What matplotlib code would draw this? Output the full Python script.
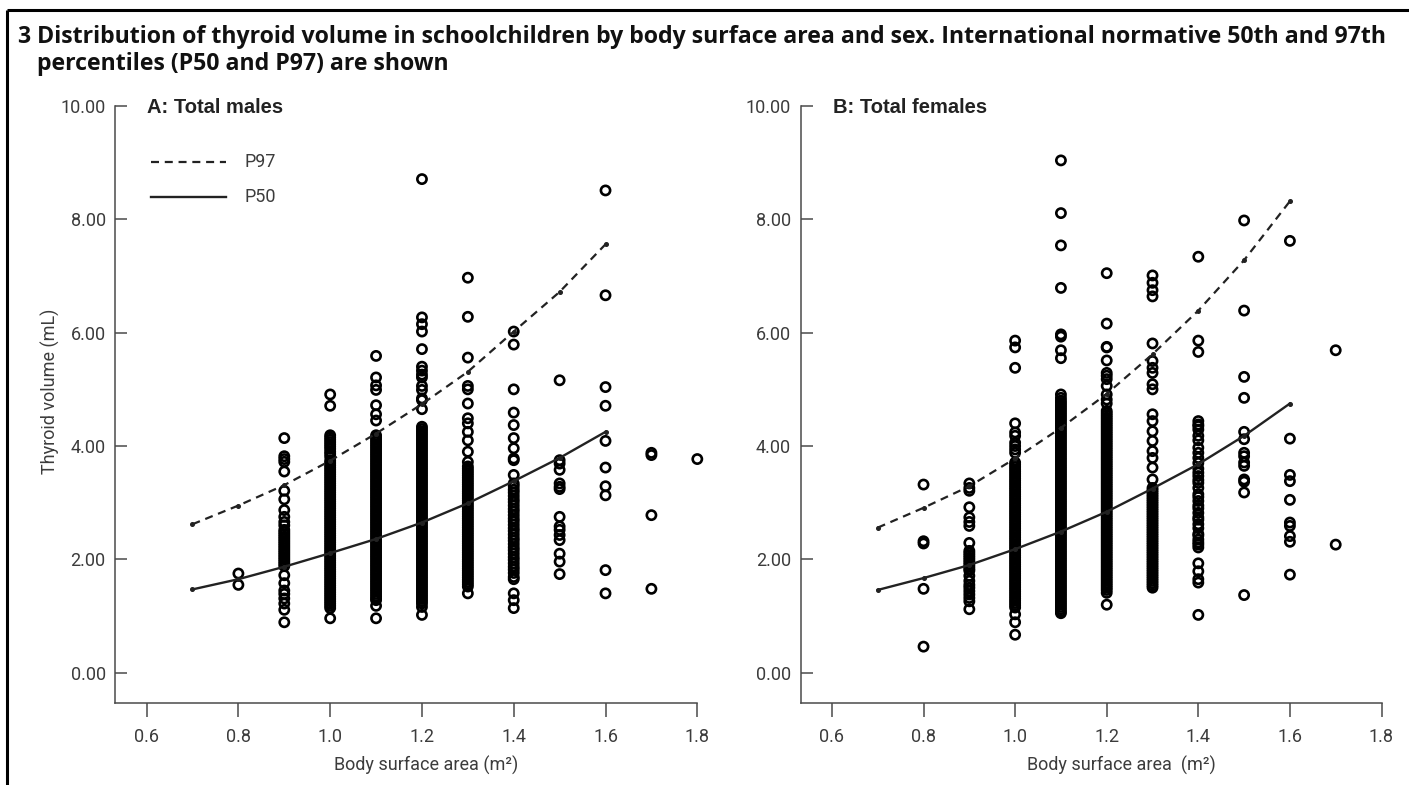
import matplotlib
matplotlib.use("Agg")
import matplotlib.pyplot as plt
from matplotlib.lines import Line2D

# ---------------- data ----------------
curve_bsa = [0.7, 0.8, 0.9, 1.0, 1.1, 1.2, 1.3, 1.4, 1.5, 1.6]
male_p50 = [1.47, 1.65, 1.87, 2.11, 2.36, 2.65, 2.99, 3.38, 3.79, 4.25]
male_p97 = [2.62, 2.95, 3.31, 3.74, 4.22, 4.74, 5.31, 6.02, 6.72, 7.56]
female_p50 = [1.46, 1.67, 1.90, 2.18, 2.49, 2.84, 3.25, 3.68, 4.18, 4.75]
female_p97 = [2.56, 2.91, 3.29, 3.78, 4.32, 4.92, 5.62, 6.39, 7.28, 8.32]

# males: thyroid volume (mL) observed at each body surface area (m2)
m08 = [1.75, 1.55]
m09 = [4.14, 3.82, 3.77, 3.72, 3.55, 3.21, 3.06, 2.87, 2.75, 2.66, 2.60, 2.52, 2.48, 2.44,
       2.40, 2.36, 2.32, 2.28, 2.24, 2.20, 2.16, 2.12, 2.08, 2.04, 2.00, 1.96, 1.92, 1.88,
       1.72, 1.58, 1.45, 1.39, 1.31, 1.22, 1.11, 0.89]
m10 = [4.91, 4.71, 4.19, 4.15, 4.11, 4.07, 4.03, 3.99, 3.95, 3.90, 3.86, 3.81, 3.74, 3.70,
       3.66, 3.62, 3.58, 3.54, 3.50, 3.46, 3.42, 3.38, 3.34, 3.30, 3.26, 3.22, 3.18, 3.14,
       3.10, 3.06, 3.02, 2.98, 2.94, 2.90, 2.86, 2.82, 2.78, 2.74, 2.70, 2.66, 2.62, 2.58,
       2.54, 2.50, 2.46, 2.42, 2.38, 2.34, 2.30, 2.26, 2.22, 2.18, 2.14, 2.10, 2.06, 2.02,
       1.98, 1.94, 1.90, 1.86, 1.82, 1.78, 1.74, 1.70, 1.66, 1.62, 1.58, 1.54, 1.50, 1.46,
       1.42, 1.38, 1.34, 1.30, 1.26, 1.22, 1.18, 1.14, 0.96]
m11 = [5.59, 5.21, 5.07, 4.99, 4.72, 4.56, 4.45, 4.19, 4.15, 4.11, 4.07, 4.03, 3.99, 3.95,
       3.91, 3.87, 3.83, 3.79, 3.75, 3.71, 3.67, 3.63, 3.59, 3.55, 3.51, 3.47, 3.43, 3.39,
       3.35, 3.31, 3.27, 3.23, 3.19, 3.15, 3.11, 3.07, 3.03, 2.99, 2.95, 2.91, 2.87, 2.83,
       2.79, 2.75, 2.71, 2.67, 2.63, 2.59, 2.55, 2.51, 2.47, 2.43, 2.39, 2.35, 2.31, 2.27,
       2.23, 2.19, 2.15, 2.11, 2.07, 2.03, 1.99, 1.95, 1.91, 1.87, 1.83, 1.79, 1.75, 1.71,
       1.67, 1.63, 1.59, 1.55, 1.51, 1.47, 1.43, 1.39, 1.35, 1.31, 1.28, 1.18, 0.96]
m12 = [8.71, 6.27, 6.15, 6.02, 5.71, 5.40, 5.33, 5.26, 5.21, 5.06, 4.99, 4.84, 4.81, 4.65,
       4.34, 4.30, 4.26, 4.22, 4.18, 4.14, 4.10, 4.06, 4.02, 3.98, 3.94, 3.90, 3.86, 3.82,
       3.78, 3.74, 3.70, 3.66, 3.62, 3.58, 3.54, 3.50, 3.46, 3.42, 3.38, 3.34, 3.30, 3.26,
       3.22, 3.18, 3.14, 3.10, 3.06, 3.02, 2.98, 2.94, 2.90, 2.86, 2.82, 2.78, 2.74, 2.70,
       2.66, 2.62, 2.58, 2.54, 2.50, 2.46, 2.42, 2.38, 2.34, 2.30, 2.26, 2.22, 2.18, 2.14,
       2.10, 2.06, 2.02, 1.98, 1.94, 1.90, 1.86, 1.82, 1.78, 1.74, 1.70, 1.66, 1.62, 1.58,
       1.54, 1.50, 1.46, 1.42, 1.38, 1.34, 1.30, 1.26, 1.22, 1.16, 1.02]
m13 = [6.97, 6.28, 5.56, 5.06, 5.00, 4.75, 4.49, 4.40, 4.25, 4.10, 3.90, 3.72, 3.64, 3.60,
       3.56, 3.52, 3.48, 3.44, 3.40, 3.36, 3.32, 3.28, 3.24, 3.20, 3.16, 3.12, 3.08, 3.04,
       3.00, 2.96, 2.92, 2.88, 2.84, 2.80, 2.76, 2.72, 2.68, 2.64, 2.60, 2.56, 2.52, 2.48,
       2.44, 2.40, 2.36, 2.32, 2.28, 2.24, 2.20, 2.16, 2.12, 2.08, 2.04, 2.00, 1.96, 1.92,
       1.88, 1.84, 1.80, 1.76, 1.72, 1.68, 1.64, 1.60, 1.56, 1.52, 1.40]
m14 = [6.02, 5.79, 5.00, 4.59, 4.37, 4.14, 3.96, 3.78, 3.75, 3.49, 3.34, 3.29, 3.23, 3.18,
       3.12, 3.06, 3.01, 2.95, 2.89, 2.84, 2.78, 2.72, 2.67, 2.61, 2.55, 2.50, 2.44, 2.38,
       2.33, 2.27, 2.21, 2.16, 2.10, 2.04, 1.99, 1.93, 1.87, 1.82, 1.76, 1.69, 1.65, 1.40,
       1.28, 1.14]
m15 = [5.16, 3.75, 3.69, 3.58, 3.34, 3.28, 3.24, 2.75, 2.58, 2.52, 2.43, 2.34, 2.10, 1.96, 1.74]
m16 = [8.51, 6.66, 5.04, 4.71, 4.09, 3.62, 3.29, 3.13, 1.81, 1.40]
m17 = [3.88, 3.84, 2.78, 1.48]
m18 = [3.77]

# females
f08 = [3.32, 2.32, 2.28, 1.48, 0.46]
f09 = [3.34, 3.26, 3.21, 2.92, 2.74, 2.66, 2.59, 2.29, 2.15, 2.11, 2.07, 2.03, 1.99, 1.95,
       1.91, 1.87, 1.83, 1.80, 1.71, 1.62, 1.55, 1.50, 1.44, 1.38, 1.32, 1.26, 1.12]
f10 = [5.86, 5.74, 5.38, 4.40, 4.24, 4.18, 4.06, 4.00, 3.94, 3.88, 3.71, 3.67, 3.63, 3.59,
       3.55, 3.51, 3.47, 3.43, 3.39, 3.35, 3.31, 3.27, 3.23, 3.19, 3.15, 3.11, 3.07, 3.03,
       2.99, 2.95, 2.91, 2.87, 2.83, 2.79, 2.75, 2.71, 2.67, 2.63, 2.59, 2.55, 2.51, 2.47,
       2.43, 2.39, 2.35, 2.31, 2.27, 2.23, 2.19, 2.15, 2.11, 2.07, 2.03, 1.99, 1.95, 1.91,
       1.87, 1.83, 1.79, 1.75, 1.71, 1.67, 1.63, 1.59, 1.55, 1.51, 1.47, 1.43, 1.39, 1.35,
       1.31, 1.27, 1.23, 1.19, 1.15, 1.03, 0.89, 0.67]
f11 = [9.04, 8.11, 7.54, 6.79, 5.97, 5.93, 5.69, 5.55, 4.91, 4.85, 4.80, 4.76, 4.72, 4.68,
       4.64, 4.60, 4.56, 4.52, 4.48, 4.44, 4.40, 4.36, 4.32, 4.28, 4.24, 4.20, 4.16, 4.12,
       4.08, 4.04, 4.00, 3.96, 3.92, 3.88, 3.84, 3.80, 3.76, 3.72, 3.68, 3.64, 3.60, 3.56,
       3.52, 3.48, 3.44, 3.40, 3.36, 3.32, 3.28, 3.24, 3.20, 3.16, 3.12, 3.08, 3.04, 3.00,
       2.96, 2.92, 2.88, 2.84, 2.80, 2.76, 2.72, 2.68, 2.64, 2.60, 2.56, 2.52, 2.48, 2.44,
       2.40, 2.36, 2.32, 2.28, 2.24, 2.20, 2.16, 2.12, 2.08, 2.04, 2.00, 1.96, 1.92, 1.88,
       1.84, 1.80, 1.76, 1.72, 1.68, 1.64, 1.60, 1.56, 1.52, 1.48, 1.44, 1.40, 1.36, 1.32,
       1.28, 1.24, 1.20, 1.16, 1.12, 1.08, 1.05]
f12 = [7.05, 6.16, 5.75, 5.74, 5.51, 5.29, 5.24, 5.18, 5.06, 4.91, 4.82, 4.75, 4.62, 4.58,
       4.54, 4.50, 4.46, 4.42, 4.38, 4.34, 4.30, 4.26, 4.22, 4.18, 4.14, 4.10, 4.06, 4.02,
       3.98, 3.94, 3.90, 3.86, 3.82, 3.78, 3.74, 3.70, 3.66, 3.62, 3.58, 3.54, 3.50, 3.46,
       3.42, 3.38, 3.34, 3.30, 3.26, 3.22, 3.18, 3.14, 3.10, 3.06, 3.02, 2.98, 2.94, 2.90,
       2.86, 2.82, 2.78, 2.74, 2.70, 2.66, 2.62, 2.58, 2.54, 2.50, 2.46, 2.42, 2.38, 2.34,
       2.30, 2.26, 2.22, 2.18, 2.14, 2.10, 2.06, 2.02, 1.98, 1.94, 1.90, 1.86, 1.82, 1.78,
       1.74, 1.70, 1.66, 1.62, 1.58, 1.54, 1.50, 1.46, 1.41, 1.20]
f13 = [7.01, 6.88, 6.75, 6.64, 5.81, 5.50, 5.38, 5.29, 5.09, 5.00, 4.56, 4.44, 4.26, 4.09,
       3.91, 3.79, 3.62, 3.41, 3.26, 3.22, 3.18, 3.14, 3.10, 3.06, 3.02, 2.98, 2.94, 2.90,
       2.86, 2.82, 2.78, 2.74, 2.70, 2.66, 2.62, 2.58, 2.54, 2.50, 2.46, 2.42, 2.38, 2.34,
       2.30, 2.26, 2.22, 2.18, 2.14, 2.10, 2.06, 2.02, 1.98, 1.94, 1.90, 1.86, 1.82, 1.78,
       1.74, 1.70, 1.66, 1.62, 1.58, 1.54, 1.50]
f14 = [7.34, 5.86, 5.66, 4.44, 4.38, 4.35, 4.29, 4.18, 4.10, 3.97, 3.88, 3.79, 3.70, 3.60,
       3.53, 3.47, 3.40, 3.35, 3.26, 3.15, 3.10, 3.03, 2.95, 2.90, 2.82, 2.74, 2.70, 2.62,
       2.55, 2.45, 2.42, 2.35, 2.30, 2.26, 2.21, 1.93, 1.79, 1.65, 1.59, 1.02]
f15 = [7.98, 6.39, 5.22, 4.85, 4.25, 4.12, 3.88, 3.82, 3.71, 3.65, 3.41, 3.37, 3.18, 1.37]
f16 = [7.62, 4.13, 3.49, 3.38, 3.05, 2.65, 2.59, 2.41, 2.31, 1.73]
f17 = [5.69, 2.26]

male_bsa = [0.8, 0.9, 1.0, 1.1, 1.2, 1.3, 1.4, 1.5, 1.6, 1.7, 1.8]
male_vols = [m08, m09, m10, m11, m12, m13, m14, m15, m16, m17, m18]
female_bsa = [0.8, 0.9, 1.0, 1.1, 1.2, 1.3, 1.4, 1.5, 1.6, 1.7]
female_vols = [f08, f09, f10, f11, f12, f13, f14, f15, f16, f17]

x_ticks = [0.6, 0.8, 1.0, 1.2, 1.4, 1.6, 1.8]
x_ticklabels = ["0.6", "0.8", "1.0", "1.2", "1.4", "1.6", "1.8"]
y_ticks = [0, 2, 4, 6, 8, 10]
y_ticklabels = ["0.00", "2.00", "4.00", "6.00", "8.00", "10.00"]

title_line1 = ("Distribution of thyroid volume in schoolchildren by body surface area "
               "and sex. International normative 50th and 97th")
title_line2 = "percentiles (P50 and P97) are shown"

# ---------------- figure ----------------
W, H = 1409, 785
fig = plt.figure(figsize=(W / 100, H / 100), dpi=100)
fig.patch.set_facecolor("white")

def fx(px):
    return px / W

def fy(py):
    return 1 - py / H

TICK_FONT = dict(family=["Roboto", "DejaVu Sans"], weight="normal")
tick_color = "#3c3c3c"
axis_color = "#4a4a4a"
FS = 13


def make_panel(x0, x1, label, bsa, vols, p50, p97, xlabel, xlabel_cx):
    ax = fig.add_axes([fx(x0), fy(703.3), fx(x1) - fx(x0), (703.3 - 106) / H])
    ax.set_xlim(0.532, 1.8)
    ax.set_ylim(-0.54, 10)
    for s in ("top", "right"):
        ax.spines[s].set_visible(False)
    for s in ("left", "bottom"):
        ax.spines[s].set_color(axis_color)
        ax.spines[s].set_linewidth(1.1)
    ax.set_xticks(x_ticks)
    ax.set_xticklabels(x_ticklabels, **TICK_FONT)
    ax.set_yticks(y_ticks)
    ax.set_yticklabels(y_ticklabels, **TICK_FONT)
    ax.tick_params(axis="x", direction="out", length=10, width=1.1, color=axis_color,
                   pad=8, labelsize=FS, labelcolor=tick_color)
    ax.tick_params(axis="y", direction="in", length=8.6, width=1.1, color=axis_color,
                   pad=7, labelsize=FS, labelcolor=tick_color)

    for xv, ys in zip(bsa, vols):
        ax.scatter([xv] * len(ys), ys, s=44, facecolors="none", edgecolors="black",
                   linewidths=1.9, clip_on=False, zorder=3)

    ax.plot(curve_bsa, p97, color="#222222", lw=1.6, ls=(0, (3.6, 2.6)),
            marker="o", markersize=2.6, zorder=4)
    ax.plot(curve_bsa, p50, color="#222222", lw=1.7, ls="-",
            marker="o", markersize=2.6, zorder=4)

    fig.text(fx(x0 + 32), fy(113), label, fontsize=14.5, fontweight="bold",
             family=["Liberation Sans", "DejaVu Sans"], color="#222222", va="baseline")
    fig.text(fx(xlabel_cx), fy(765), xlabel, fontsize=FS, color=tick_color,
             ha="center", va="center", **TICK_FONT)
    return ax


axA = make_panel(115.4, 697.3, "A: Total males", male_bsa, male_vols, male_p50, male_p97,
                 "Body surface area (m²)", 426)
axB = make_panel(800.8, 1381.5, "B: Total females", female_bsa, female_vols, female_p50,
                 female_p97, "Body surface area  (m²)", 1121)

# y label
fig.text(fx(50), fy(391), "Thyroid volume (mL)", rotation=90, fontsize=FS,
         color=tick_color, ha="center", va="center", **TICK_FONT)

# legend (panel A)
fig.add_artist(Line2D([fx(151), fx(226)], [fy(162), fy(162)], color="#222222", lw=1.6,
                      ls=(0, (3.6, 2.6))))
fig.add_artist(Line2D([fx(151), fx(226)], [fy(197), fy(197)], color="#222222", lw=1.7))
fig.text(fx(245), fy(162), "P97", fontsize=FS, color=tick_color, va="center", **TICK_FONT)
fig.text(fx(245), fy(197), "P50", fontsize=FS, color=tick_color, va="center", **TICK_FONT)

# frame lines
fig.add_artist(Line2D([fx(7), 1.0], [fy(10), fy(10)], color="black", lw=2.2,
                      solid_capstyle="butt"))
fig.add_artist(Line2D([fx(7), fx(7)], [fy(10), 0.0], color="black", lw=2.2,
                      solid_capstyle="butt"))

# title
TITLE_FONT = dict(family=["Open Sans", "DejaVu Sans"], weight="bold", color="#111111")
t_num = fig.text(fx(17), fy(37), "3", fontsize=14, va="center", **TITLE_FONT)
t1 = fig.text(fx(37), fy(37), title_line1, fontsize=14, va="center", **TITLE_FONT)
t2 = fig.text(fx(37), fy(64), title_line2, fontsize=14, va="center", **TITLE_FONT)

# fit title width to the reference line length
fig.canvas.draw()
r = fig.canvas.get_renderer()
w = t1.get_window_extent(r).width
target = 1393 - 37
fs = 14 * target / w
for t in (t_num, t1, t2):
    t.set_fontsize(fs)

fig.savefig("out.png", dpi=100, facecolor="white")
